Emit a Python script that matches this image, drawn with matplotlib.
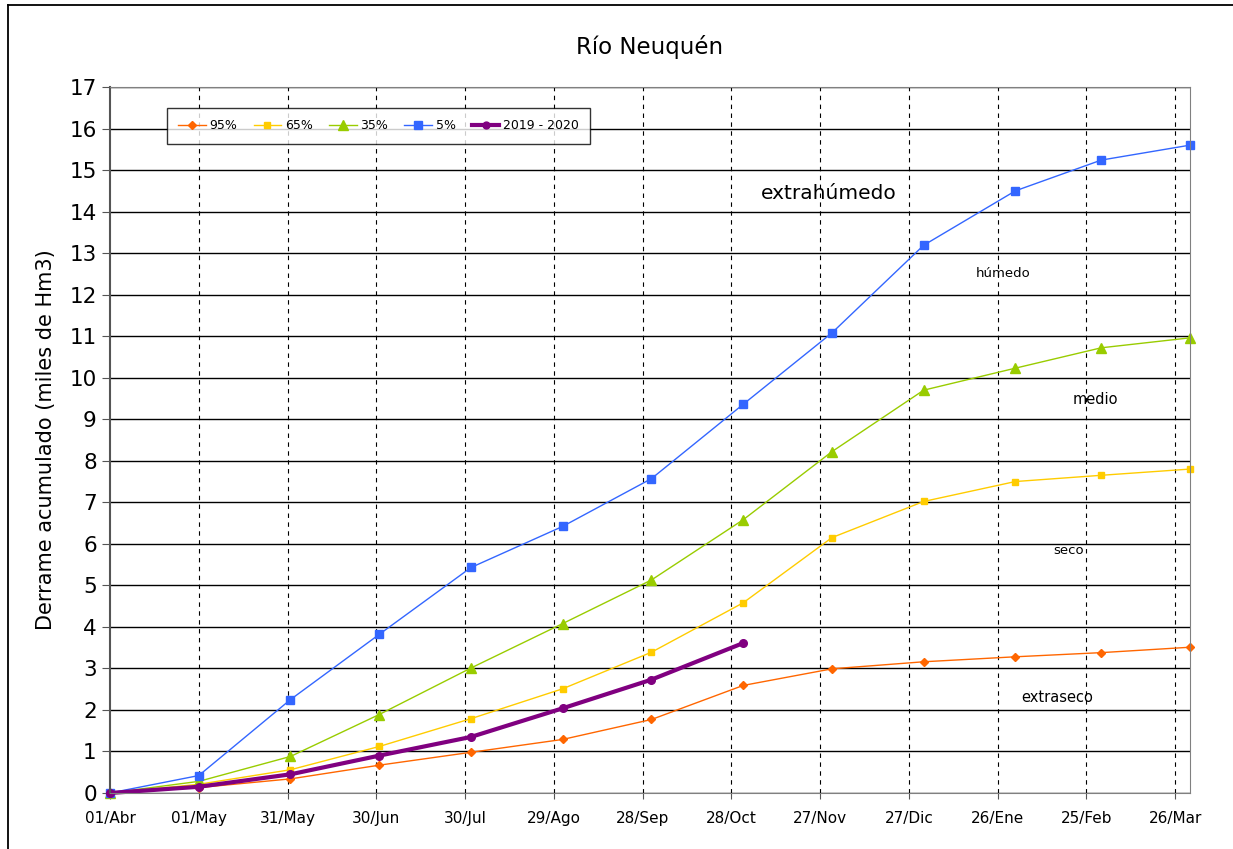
import matplotlib
matplotlib.use("Agg")
from matplotlib import pyplot as plt
from matplotlib.lines import Line2D

# DIAS DESDE 01/ABR (PUNTOS A INICIO DE CADA MES)
dias = [0, 30, 61, 91, 122, 153, 183, 214, 244, 275, 306, 335, 365]
dias_tick = [0, 30, 60, 90, 120, 150, 180, 210, 240, 270, 300, 330, 360]
etiquetas = ["01/Abr", "01/May", "31/May", "30/Jun", "30/Jul", "29/Ago", "28/Sep",
             "28/Oct", "27/Nov", "27/Dic", "26/Ene", "25/Feb", "26/Mar"]

p95 = [0, 0.13, 0.34, 0.67, 0.98, 1.29, 1.77, 2.59, 2.99, 3.16, 3.28, 3.38, 3.51]
p65 = [0, 0.21, 0.56, 1.12, 1.79, 2.51, 3.39, 4.58, 6.15, 7.02, 7.50, 7.65, 7.80]
p35 = [0, 0.28, 0.88, 1.89, 3.01, 4.08, 5.13, 6.58, 8.22, 9.70, 10.23, 10.72, 10.96]
p05 = [0, 0.42, 2.25, 3.82, 5.43, 6.42, 7.57, 9.36, 11.08, 13.19, 14.50, 15.24, 15.60]
actual = [0, 0.15, 0.45, 0.90, 1.35, 2.04, 2.73, 3.61]

W, H = 1233, 849
fig = plt.figure(figsize=(W / 100, H / 100), dpi=100)
ax = fig.add_axes([110 / W, 1 - 793 / H, (1190 - 110) / W, (793 - 87) / H])

# MARCO EXTERIOR (SOLO ARRIBA E IZQUIERDA VISIBLES)
fig.add_artist(Line2D([8 / W, 1], [1 - 5 / H, 1 - 5 / H], transform=fig.transFigure,
                      color="black", linewidth=1.3))
fig.add_artist(Line2D([8 / W, 8 / W], [0, 1 - 5 / H], transform=fig.transFigure,
                      color="black", linewidth=1.3))

ax.plot(dias, p95, color="#FF6600", marker="D", markersize=4, linewidth=1, label="95%", clip_on=False)
ax.plot(dias, p65, color="#FFCC00", marker="s", markersize=5, linewidth=1, label="65%", clip_on=False)
ax.plot(dias, p35, color="#99CC00", marker="^", markersize=7.5, linewidth=1, label="35%", clip_on=False)
ax.plot(dias, p05, color="#3366FF", marker="s", markersize=6, linewidth=1, label="5%", clip_on=False)
ax.plot(dias[:len(actual)], actual, color="#800080", marker="o", markersize=5.5,
        linewidth=3, label="2019 - 2020", clip_on=False)

ax.set_xlim(0, 365)
ax.set_ylim(0, 17)
ax.set_yticks(range(0, 18))
ax.set_xticks(dias_tick)
ax.set_xticklabels(etiquetas)
ax.tick_params(axis="y", labelsize=15.5, length=6, color="#555555")
ax.tick_params(axis="x", labelsize=11, length=4, color="#555555", pad=9)

for y in range(0, 18):
    ax.axhline(y, color="black", linewidth=1, zorder=0.5)
for x in dias_tick[1:]:
    ax.axvline(x, color="black", linewidth=0.8, linestyle=(0, (4, 4)), zorder=0.5)

for s in ["top", "right", "left", "bottom"]:
    ax.spines[s].set_color("#808080")
ax.spines["left"].set_color("#555555")
ax.spines["left"].set_linewidth(1.5)

ax.set_title("Río Neuquén", fontsize=16.5, pad=24)
ax.set_ylabel("Derrame acumulado (miles de Hm3)", fontsize=15, labelpad=10)

ax.text(243, 14.43, "extrahúmedo", fontsize=14.5, ha="center", va="center")
ax.text(302, 12.5, "húmedo", fontsize=9.5, ha="center", va="center")
ax.text(333, 9.47, "medio", fontsize=10.5, ha="center", va="center")
ax.text(324, 5.83, "seco", fontsize=9.5, ha="center", va="center")
ax.text(320, 2.29, "extraseco", fontsize=10.5, ha="center", va="center")

leg = ax.legend(loc="upper left", bbox_to_anchor=(57 / 1080, 1 - 21 / 706), ncol=5,
                fontsize=9, frameon=True, fancybox=False, edgecolor="black",
                handlelength=2.2, handletextpad=0.3, columnspacing=1.3,
                borderpad=0.9, borderaxespad=0, markerscale=0.9)
leg.get_frame().set_linewidth(1)
leg.set_zorder(5)

fig.savefig("out.png", dpi=100)
